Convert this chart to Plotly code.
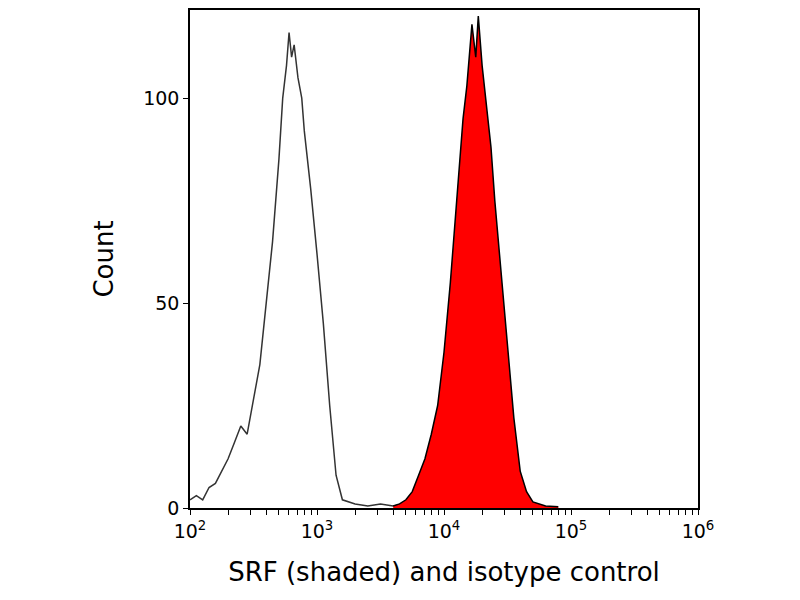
import plotly.graph_objects as go

iso_log = [2.0,2.05,2.1,2.15,2.2,2.25,2.3,2.35,2.4,2.45,2.5,2.55,2.6,2.65,2.7,2.73,2.76,2.78,2.8,2.82,2.85,2.88,2.9,2.95,3.0,3.05,3.1,3.15,3.2,3.3,3.4,3.5,3.6,3.7]
iso_cnt = [2,3,2,5,6,9,12,16,20,18,27,35,50,65,85,100,108,116,110,113,105,100,92,78,62,45,25,8,2,1,0.5,1,0.5,1]
srf_log = [3.6,3.65,3.7,3.75,3.8,3.85,3.9,3.95,4.0,4.05,4.1,4.15,4.18,4.22,4.25,4.27,4.3,4.33,4.37,4.4,4.45,4.5,4.55,4.6,4.65,4.7,4.8,4.9]
srf_cnt = [0.5,1,2,4,8,12,18,25,38,55,75,95,103,118,110,120,108,100,88,75,58,40,22,9,4,1.5,0.5,0.3]

iso_x = [10**v for v in iso_log]
srf_x = [10**v for v in srf_log]

fig = go.Figure()
fig.add_trace(go.Scatter(x=iso_x, y=iso_cnt, mode="lines", line=dict(color="#333333", width=1.5)))
fig.add_trace(go.Scatter(x=srf_x, y=srf_cnt, mode="lines", fill="tozeroy", fillcolor="#ff0000",
                         line=dict(color="black", width=1.5)))
ax = dict(showline=True, linecolor="black", linewidth=1.5, mirror=True, showgrid=False, zeroline=False,
          automargin=False, ticks="outside", tickcolor="black", tickfont=dict(size=19, color="black"))
fig.update_layout(
    width=800, height=600, margin=dict(l=182, r=110, t=2, b=100),
    plot_bgcolor="white", paper_bgcolor="white", showlegend=False,
    font=dict(family="DejaVu Sans", color="black"),
    xaxis=dict(type="log", range=[2, 6], tickvals=[100, 1000, 10000, 100000, 1000000],
               ticktext=["10<sup>2</sup>", "10<sup>3</sup>", "10<sup>4</sup>", "10<sup>5</sup>", "10<sup>6</sup>"],
               minor=dict(ticks="outside", ticklen=5, tickcolor="black", dtick="D1"),
               title=dict(text="SRF (shaded) and isotype control", font=dict(size=26), standoff=22), **ax),
    yaxis=dict(range=[0, 121.5], tickvals=[0, 50, 100],
               title=dict(text="Count", font=dict(size=26), standoff=22), **ax),
)
fig.write_html("out.html")
